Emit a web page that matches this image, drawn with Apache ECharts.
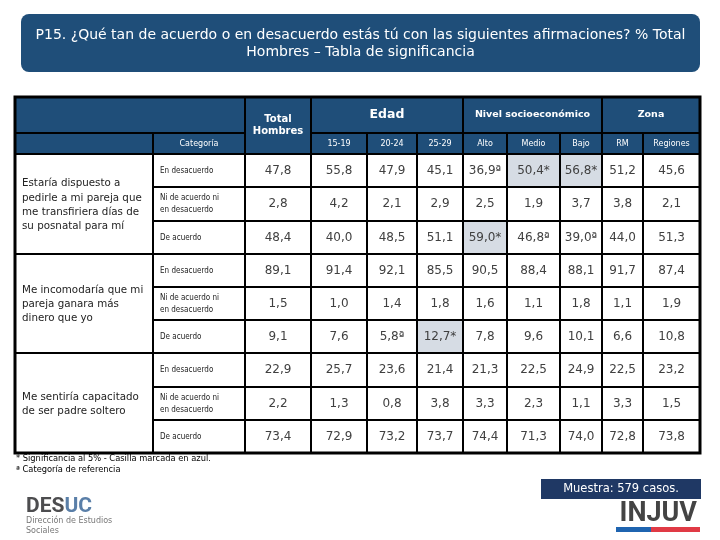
<!DOCTYPE html>
<html><head><meta charset="utf-8">
<script src="https://cdn.jsdelivr.net/npm/echarts@6/dist/echarts.min.js"></script>
<style>html,body{margin:0;padding:0;background:#fff}#c{width:720px;height:540px}</style>
</head><body><div id="c"></div>
<script>
// ---------- data ----------
const titleLines = ['P15. ¿Qué tan de acuerdo o en desacuerdo estás tú con las siguientes afirmaciones? % Total', 'Hombres – Tabla de significancia'];
const questions = ['Estaría dispuesto a\npedirle a mi pareja que\nme transfiriera días de\nsu posnatal para mí', 'Me incomodaría que mi\npareja ganara más\ndinero que yo', 'Me sentiría capacitado\nde ser padre soltero'];
const answers = ['En desacuerdo', 'Ni de acuerdo ni\nen desacuerdo', 'De acuerdo'];
const totalLabel = 'Total\nHombres';
const categoryLabel = 'Categoría';
const groupLabels = ['Edad', 'Nivel socioeconómico', 'Zona'];
const groupSpans = [3, 3, 2];
const columnLabels = ['15-19', '20-24', '25-29', 'Alto', 'Medio', 'Bajo', 'RM', 'Regiones'];

const totalHombres = [47.8, 2.8, 48.4, 89.1, 1.5, 9.1, 22.9, 2.2, 73.4];
const edad15_19   = [55.8, 4.2, 40.0, 91.4, 1.0, 7.6, 25.7, 1.3, 72.9];
const edad20_24   = [47.9, 2.1, 48.5, 92.1, 1.4, 5.8, 23.6, 0.8, 73.2];
const edad25_29   = [45.1, 2.9, 51.1, 85.5, 1.8, 12.7, 21.4, 3.8, 73.7];
const nseAlto     = [36.9, 2.5, 59.0, 90.5, 1.6, 7.8, 21.3, 3.3, 74.4];
const nseMedio    = [50.4, 1.9, 46.8, 88.4, 1.1, 9.6, 22.5, 2.3, 71.3];
const nseBajo     = [56.8, 3.7, 39.0, 88.1, 1.8, 10.1, 24.9, 1.1, 74.0];
const zonaRM      = [51.2, 3.8, 44.0, 91.7, 1.1, 6.6, 22.5, 3.3, 72.8];
const zonaRegiones= [45.6, 2.1, 51.3, 87.4, 1.9, 10.8, 23.2, 1.5, 73.8];

// significance marks: '*' significant (highlighted), 'ª' reference category
const sigTotal    = ['', '', '', '', '', '', '', '', ''];
const sig15_19    = ['', '', '', '', '', '', '', '', ''];
const sig20_24    = ['', '', '', '', '', 'ª', '', '', ''];
const sig25_29    = ['', '', '', '', '', '*', '', '', ''];
const sigAlto     = ['ª', '', '*', '', '', '', '', '', ''];
const sigMedio    = ['*', '', 'ª', '', '', '', '', '', ''];
const sigBajo     = ['*', '', 'ª', '', '', '', '', '', ''];
const sigRM       = ['', '', '', '', '', '', '', '', ''];
const sigRegiones = ['', '', '', '', '', '', '', '', ''];

const footnotes = ['* Significancia al 5% - Casilla marcada en azul.', 'ª Categoría de referencia'];
const sampleText = 'Muestra: 579 casos.';

// ---------- layout (sizes only) ----------
const colWidths = [138, 92, 66, 56, 50, 46, 44, 53, 42, 41, 57];
const rowHeights = [36, 21, 33, 34, 33, 33, 33, 33, 34, 33, 33];
const colEdges = [0]; colWidths.forEach(w => colEdges.push(colEdges[colEdges.length - 1] + w));
const rowEdges = [0]; rowHeights.forEach(h => rowEdges.push(rowEdges[rowEdges.length - 1] + h));

const HEAD = '#1F4E79', HILITE = '#D6DCE4', FONT = '"DejaVu Sans", Verdana, sans-serif';
const SMALL = '"DejaVu Sans Condensed", "Liberation Sans", sans-serif';

const valueCols = [totalHombres, edad15_19, edad20_24, edad25_29, nseAlto, nseMedio, nseBajo, zonaRM, zonaRegiones];
const sigCols = [sigTotal, sig15_19, sig20_24, sig25_29, sigAlto, sigMedio, sigBajo, sigRM, sigRegiones];

const cells = [];
function addCell(c0, c1, r0, r1, props) {
  cells.push(Object.assign({ value: [colEdges[c0], rowEdges[r0], colEdges[c1], rowEdges[r1]] }, props));
}
// header
addCell(0, 2, 0, 1, { kind: 'head', text: '' });
addCell(2, 3, 0, 2, { kind: 'head', text: totalLabel, font: 'bold 10px ' + FONT, lh: 12 });
let cc = 3;
groupLabels.forEach((g, i) => {
  addCell(cc, cc + groupSpans[i], 0, 1, { kind: 'head', text: g, font: 'bold ' + (i === 0 ? 12.5 : 9.5) + 'px ' + FONT });
  cc += groupSpans[i];
});
addCell(0, 1, 1, 2, { kind: 'head', text: '' });
addCell(1, 2, 1, 2, { kind: 'head', text: categoryLabel, font: '8px ' + FONT });
columnLabels.forEach((l, i) => addCell(3 + i, 4 + i, 1, 2, { kind: 'head', text: l, font: '8px ' + FONT }));
// body
questions.forEach((q, qi) => {
  addCell(0, 1, 2 + qi * 3, 5 + qi * 3, { kind: 'question', text: q });
  answers.forEach((a, ai) => {
    const r = 2 + qi * 3 + ai;
    addCell(1, 2, r, r + 1, { kind: 'answer', text: a });
    valueCols.forEach((col, j) => {
      const k = qi * 3 + ai;
      const s = sigCols[j][k];
      addCell(2 + j, 3 + j, r, r + 1, { kind: 'value', text: col[k].toFixed(1).replace('.', ',') + s, hi: s === '*' });
    });
  });
});
addCell(0, colWidths.length, 0, rowHeights.length, { kind: 'frame', text: '' });

function renderItem(params, api) {
  const c = cells[params.dataIndex];
  const p0 = api.coord([api.value(0), api.value(1)]);
  const p1 = api.coord([api.value(2), api.value(3)]);
  const x = p0[0], y = p0[1], w = p1[0] - p0[0], h = p1[1] - p0[1];
  if (c.kind === 'frame') {
    return { type: 'rect', shape: { x, y, width: w, height: h }, style: { fill: 'none', stroke: '#000', lineWidth: 3 }, z2: 10 };
  }
  const fill = c.kind === 'head' ? HEAD : (c.hi ? HILITE : '#fff');
  const children = [{ type: 'rect', shape: { x, y, width: w, height: h }, style: { fill, stroke: '#000', lineWidth: 2 } }];
  if (c.text) {
    let ts;
    if (c.kind === 'head') ts = { x: x + w / 2, y: y + h / 2, align: 'center', verticalAlign: 'middle', fill: '#fff', font: c.font, lineHeight: c.lh || 12 };
    else if (c.kind === 'question') ts = { x: x + 7, y: y + h / 2 + 1, align: 'left', verticalAlign: 'middle', fill: '#222', font: '10.3px ' + FONT, lineHeight: 14.3 };
    else if (c.kind === 'answer') ts = { x: x + 7, y: y + h / 2, align: 'left', verticalAlign: 'middle', fill: '#222', font: '8px ' + SMALL, lineHeight: 12 };
    else ts = { x: x + w / 2, y: y + h / 2, align: 'center', verticalAlign: 'middle', fill: '#404040', font: '12px ' + FONT };
    ts.text = c.text;
    children.push({ type: 'text', style: ts, z2: 5 });
  }
  return { type: 'group', children };
}

const chart = echarts.init(document.getElementById('c'), null, { renderer: 'canvas' });
chart.setOption({
  animation: false,
  backgroundColor: '#fff',
  grid: { left: 15, top: 97, width: colEdges[colEdges.length - 1], height: rowEdges[rowEdges.length - 1] },
  xAxis: { type: 'value', min: 0, max: colEdges[colEdges.length - 1], show: false },
  yAxis: { type: 'value', min: 0, max: rowEdges[rowEdges.length - 1], inverse: true, show: false },
  series: [{ type: 'custom', renderItem, clip: false, encode: { x: [0, 2], y: [1, 3] }, data: cells }],
  graphic: [
    { type: 'rect', shape: { x: 21, y: 14, width: 679, height: 58, r: 8 }, style: { fill: HEAD } },
    { type: 'text', style: { x: 360.5, y: 43.5, text: titleLines.join('\n'), align: 'center', verticalAlign: 'middle', fill: '#fff', font: '14px ' + FONT, lineHeight: 17 } },
    { type: 'text', style: { x: 16, y: 459, text: footnotes[0], verticalAlign: 'middle', fill: '#000', font: '8.3px ' + FONT } },
    { type: 'text', style: { x: 16, y: 469.5, text: footnotes[1], verticalAlign: 'middle', fill: '#000', font: '8.3px ' + FONT } },
    { type: 'rect', shape: { x: 541, y: 479, width: 160, height: 20 }, style: { fill: '#1F3864' } },
    { type: 'text', style: { x: 621, y: 489.5, text: sampleText, align: 'center', verticalAlign: 'middle', fill: '#fff', font: '11.5px ' + FONT } },
    { type: 'text', style: { x: 26, y: 507, text: '{a|DES}{b|UC}', verticalAlign: 'middle', rich: { a: { fill: '#4d4d4f', font: 'bold 21px Roboto' }, b: { fill: '#5a7fa8', font: 'bold 21px Roboto' } } } },
    { type: 'text', style: { x: 26, y: 521, text: 'Dirección de Estudios', verticalAlign: 'middle', fill: '#777', font: '8px ' + FONT } },
    { type: 'text', style: { x: 26, y: 531, text: 'Sociales', verticalAlign: 'middle', fill: '#777', font: '8px ' + FONT } },
    { type: 'text', style: { x: 697, y: 514, text: 'INJUV', align: 'right', verticalAlign: 'middle', fill: '#444', font: 'bold 27px Roboto' } },
    { type: 'rect', shape: { x: 616, y: 527, width: 35, height: 5 }, style: { fill: '#1F64B0' } },
    { type: 'rect', shape: { x: 651, y: 527, width: 49, height: 5 }, style: { fill: '#E03A45' } }
  ]
});
</script></body></html>
